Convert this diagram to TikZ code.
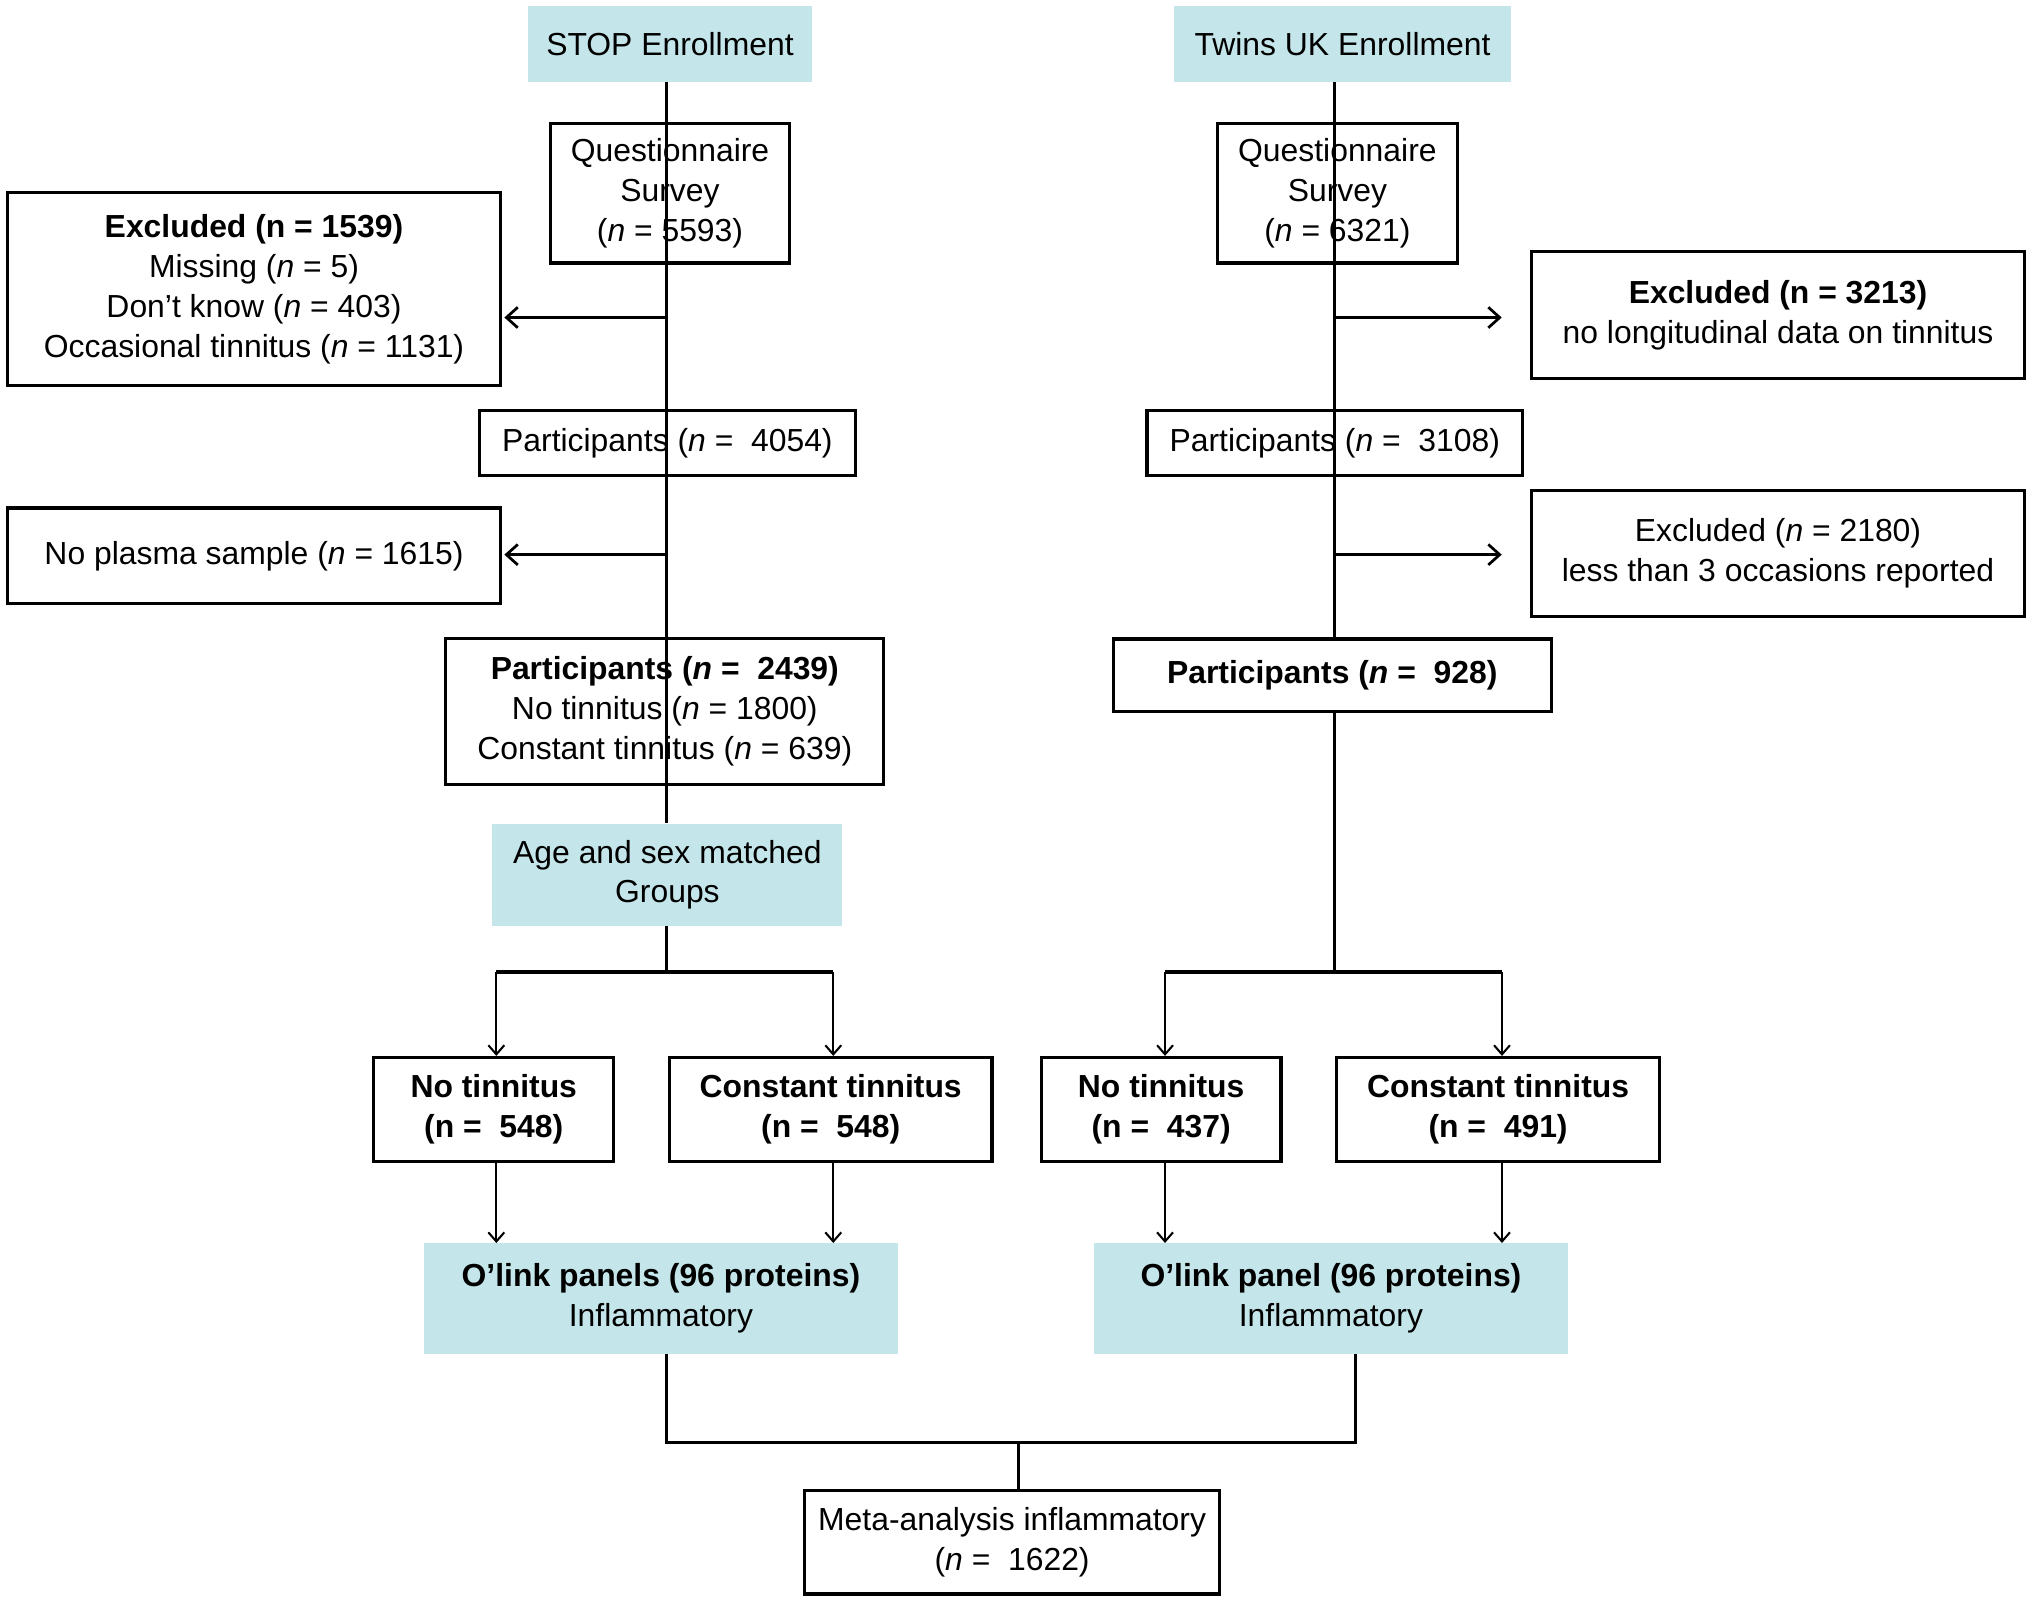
\documentclass[tikz,border=0pt]{standalone}
\usepackage{fontspec}
\setmainfont{Liberation Sans}
\usetikzlibrary{arrows.meta}
\definecolor{cy}{HTML}{C4E6EA}
\begin{document}
\begin{tikzpicture}[x=0.02cm,y=-0.02cm,
  box/.style={draw=black,line width=1.4pt,align=center,inner sep=0pt,font=\fontsize{14}{17.5}\selectfont},
  cbox/.style={fill=cy,align=center,inner sep=0pt,font=\fontsize{14}{17.5}\selectfont},
  ln/.style={line width=1.4pt},
  arr/.style={line width=1.4pt,-{Straight Barb[length=5pt,width=9pt,line width=1.2pt]}},
  sarr/.style={line width=0.9pt,-{Straight Barb[length=4pt,width=7pt,line width=0.9pt]}}]
\useasboundingbox (0,0) rectangle (1568,1238);
\node[cbox,minimum width=4.38cm,minimum height=1.16cm] (stop) at (517,34) {STOP Enrollment};
\node[cbox,minimum width=5.2cm,minimum height=1.16cm] (twin) at (1036,34) {Twins UK Enrollment};
\node[box,minimum width=3.7cm,minimum height=2.16cm] (q1) at (517,149) {Questionnaire\\Survey\\(\textit{n} = 5593)};
\node[box,minimum width=3.7cm,minimum height=2.16cm] (q2) at (1032,149) {Questionnaire\\Survey\\(\textit{n} = 6321)};
\node[box,minimum width=7.6cm,minimum height=2.98cm] (e1) at (196,223) {\textbf{Excluded (n = 1539)}\\Missing (\textit{n} = 5)\\Don’t know (\textit{n} = 403)\\Occasional tinnitus (\textit{n} = 1131)};
\node[box,minimum width=7.6cm,minimum height=1.96cm] (e2) at (1372,243) {\textbf{Excluded (n = 3213)}\\no longitudinal data on tinnitus};
\node[box,minimum width=5.8cm,minimum height=1.0cm] (p1) at (515,342) {Participants (\textit{n} =\ \ 4054)};
\node[box,minimum width=5.8cm,minimum height=1.0cm] (p2) at (1030,342) {Participants (\textit{n} =\ \ 3108)};
\node[box,minimum width=7.6cm,minimum height=1.48cm] (np) at (196,429) {No plasma sample (\textit{n} = 1615)};
\node[box,minimum width=7.6cm,minimum height=1.94cm] (e3) at (1372,427) {Excluded (\textit{n} = 2180)\\less than 3 occasions reported};
\node[box,minimum width=6.76cm,minimum height=2.26cm] (p3) at (513,549) {\textbf{Participants (\textit{n} =\ \ 2439)}\\No tinnitus (\textit{n} = 1800)\\Constant tinnitus (\textit{n} = 639)};
\node[box,minimum width=6.76cm,minimum height=1.12cm] (p4) at (1028,521) {\textbf{Participants (\textit{n} =\ \ 928)}};
\node[cbox,minimum width=5.4cm,minimum height=1.58cm] (age) at (515,675) {Age and sex matched\\Groups};
\node[box,minimum width=3.7cm,minimum height=1.6cm] (nt1) at (381,856) {\textbf{No tinnitus}\\\textbf{(n =\ \ 548)}};
\node[box,minimum width=4.98cm,minimum height=1.6cm] (ct1) at (641,856) {\textbf{Constant tinnitus}\\\textbf{(n =\ \ 548)}};
\node[box,minimum width=3.7cm,minimum height=1.6cm] (nt2) at (896,856) {\textbf{No tinnitus}\\\textbf{(n =\ \ 437)}};
\node[box,minimum width=4.98cm,minimum height=1.6cm] (ct2) at (1156,856) {\textbf{Constant tinnitus}\\\textbf{(n =\ \ 491)}};
\node[cbox,minimum width=7.32cm,minimum height=1.7cm] (o1) at (510,1002) {\textbf{O’link panels (96 proteins)}\\Inflammatory};
\node[cbox,minimum width=7.32cm,minimum height=1.7cm] (o2) at (1027,1002) {\textbf{O’link panel (96 proteins)}\\Inflammatory};
\node[box,minimum width=6.4cm,minimum height=1.6cm] (meta) at (781,1190) {Meta-analysis inflammatory\\(\textit{n} =\ \ 1622)};
% left spine
\draw[ln] (stop.south -| 514,0) -- (age.north -| 514,0);
\coordinate (la) at (514,245); \coordinate (lb) at (514,428);
\draw[arr] (la) -- ([xshift=0.04cm]e1.east |- la);
\draw[arr] (lb) -- ([xshift=0.04cm]np.east |- lb);
% right spine
\draw[ln] (twin.south -| 1030,0) -- (p4.north -| 1030,0);
\draw[ln] (p4.south -| 1030,0) -- (1030,750);
\coordinate (ra) at (1030,245); \coordinate (rb) at (1030,428);
\draw[arr] (ra) -- ([xshift=-0.44cm]e2.west |- ra);
\draw[arr] (rb) -- ([xshift=-0.44cm]e3.west |- rb);
% splits
\draw[ln] (age.south -| 514,0) -- (514,750);
\coordinate (j1) at (383,750); \coordinate (j2) at (643,750);
\coordinate (j3) at (899,750); \coordinate (j4) at (1159,750);
\draw[ln] (j1) -- (j2); \draw[ln] (j3) -- (j4);
\draw[sarr] (j1) -- (j1 |- nt1.north);
\draw[sarr] (j2) -- (j2 |- ct1.north);
\draw[sarr] (j3) -- (j3 |- nt2.north);
\draw[sarr] (j4) -- (j4 |- ct2.north);
\draw[sarr] (j1 |- nt1.south) -- (j1 |- o1.north);
\draw[sarr] (j2 |- ct1.south) -- (j2 |- o1.north);
\draw[sarr] (j3 |- nt2.south) -- (j3 |- o2.north);
\draw[sarr] (j4 |- ct2.south) -- (j4 |- o2.north);
% merge
\coordinate (m1) at (514,1113); \coordinate (m2) at (1046,1113); \coordinate (m3) at (786,1113);
\draw[ln] (m1 |- o1.south) -- (m1) -- (m2) -- (m2 |- o2.south);
\draw[ln] (m3) -- (m3 |- meta.north);
\end{tikzpicture}
\end{document}
